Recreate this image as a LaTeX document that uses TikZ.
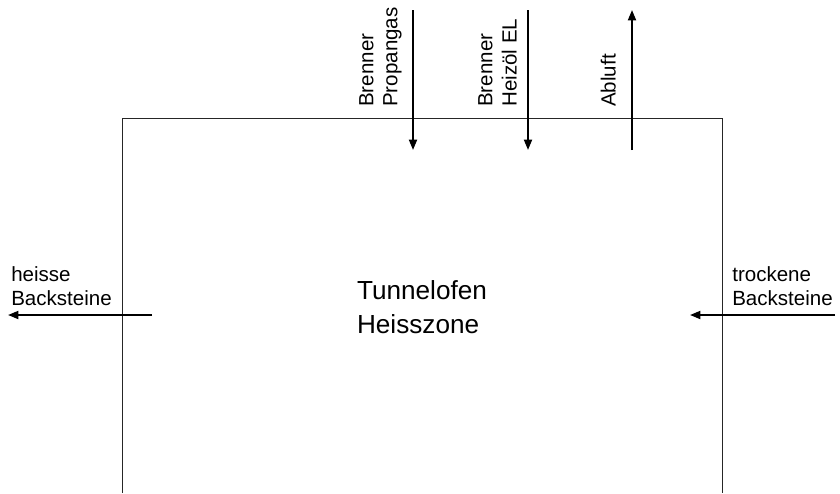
\documentclass[tikz,border=0pt]{standalone}
\usepackage{fontspec}
\setmainfont{Liberation Sans}
\usetikzlibrary{arrows.meta,positioning}

\begin{document}
\begin{tikzpicture}[
  x=0.025cm,y=-0.025cm,
  >={Triangle[length=2.6mm,width=2mm]},
  wall/.style={draw=black!85,line width=0.6pt},
  flow/.style={line width=1.4pt,->},
  lbl/.style={font=\fontsize{14.6}{17.2}\selectfont,align=left,inner sep=0pt},
  vlbl/.style={lbl,rotate=90,anchor=south west},
  zone/.style={font=\fontsize{18.6}{24}\selectfont,align=left}
]
  \useasboundingbox (0,0) rectangle (840,493);

  % kiln outline, open at the bottom
  \coordinate (kBL) at (122,493);
  \coordinate (kTL) at (122,118);
  \coordinate (kTR) at (722,118);
  \coordinate (kBR) at (722,493);
  \draw[wall] (kBL) -- (kTL) -- (kTR) -- (kBR);
  \node[zone] (kiln) at (422,307) {Tunnelofen\\Heisszone};

  % feeds and exhaust through the roof
  \coordinate (gasTop) at (413,10);   \coordinate (gasEnd) at (413,150);
  \coordinate (oilTop) at (528,10);   \coordinate (oilEnd) at (528,150);
  \coordinate (airEnd) at (632,10);   \coordinate (airBot) at (632,150);
  \draw[flow] (gasTop) -- (gasEnd);
  \draw[flow] (oilTop) -- (oilEnd);
  \draw[flow] (airBot) -- (airEnd);
  \node[vlbl] (gas) at (402,107) {Brenner\\Propangas};
  \node[vlbl] (oil) at (517,107) {Brenner\\Heizöl EL};
  \node[vlbl] (air) at (616,107) {Abluft};

  % bricks in and out
  \coordinate (hotBeg) at (152,315);  \coordinate (hotEnd) at (8,315);
  \coordinate (dryBeg) at (835,315);  \coordinate (dryEnd) at (690,315);
  \draw[flow] (hotBeg) -- (hotEnd);
  \draw[flow] (dryBeg) -- (dryEnd);
  \node[lbl,anchor=south west] (hot) at (11,306) {heisse\\Backsteine};
  \node[lbl,anchor=south west] (dry) at (732,306) {trockene\\Backsteine};
\end{tikzpicture}
\end{document}
